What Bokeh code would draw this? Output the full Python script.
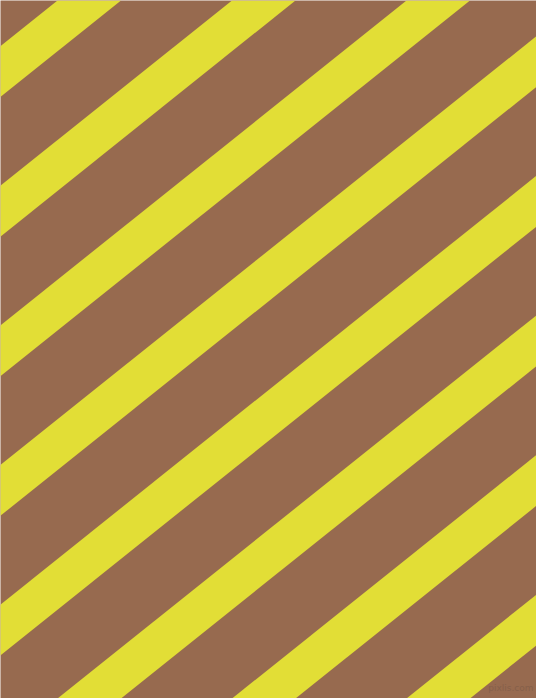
from bokeh.plotting import figure
from bokeh.models import Range1d
from bokeh.core.properties import value
from bokeh.embed import file_html
from bokeh.resources import INLINE

# Pattern description (in reference pixel units, y measured upward from bottom)
canvas_width = 536
canvas_height = 698
background_color = "#976A4F"
stripe_color = "#E2DE36"
watermark_color = "#86604A"

# left edge of each yellow stripe where it meets the bottom edge
stripe_starts = [-815.5, -641.0, -466.5, -292.0, -117.5, 57.0, 231.5, 406.0]
stripe_width = 63.5          # horizontal width of a stripe
stripe_run = 1.25            # horizontal shift per unit of height
watermark_text = "pixlis.com"

xs = []
ys = []
for c in stripe_starts:
    top_shift = stripe_run * canvas_height
    xs.append([c, c + stripe_width, c + stripe_width + top_shift, c + top_shift])
    ys.append([0, 0, canvas_height, canvas_height])

p = figure(
    width=canvas_width,
    height=canvas_height,
    x_range=Range1d(0, canvas_width),
    y_range=Range1d(0, canvas_height),
    output_backend="svg",
    toolbar_location=None,
    x_axis_location=None,
    y_axis_location=None,
    min_border=0,
    background_fill_color=background_color,
    border_fill_color=background_color,
    outline_line_color=None,
)
p.grid.visible = False

p.patches(xs, ys, fill_color=stripe_color, line_color=None)

p.text(
    x=[canvas_width - 3],
    y=[6],
    text=[watermark_text],
    text_font=value("DejaVu Sans"),
    text_font_size="9px",
    text_color=watermark_color,
    text_align="right",
    text_baseline="bottom",
)

open("out.html", "w").write(file_html(p, INLINE))
